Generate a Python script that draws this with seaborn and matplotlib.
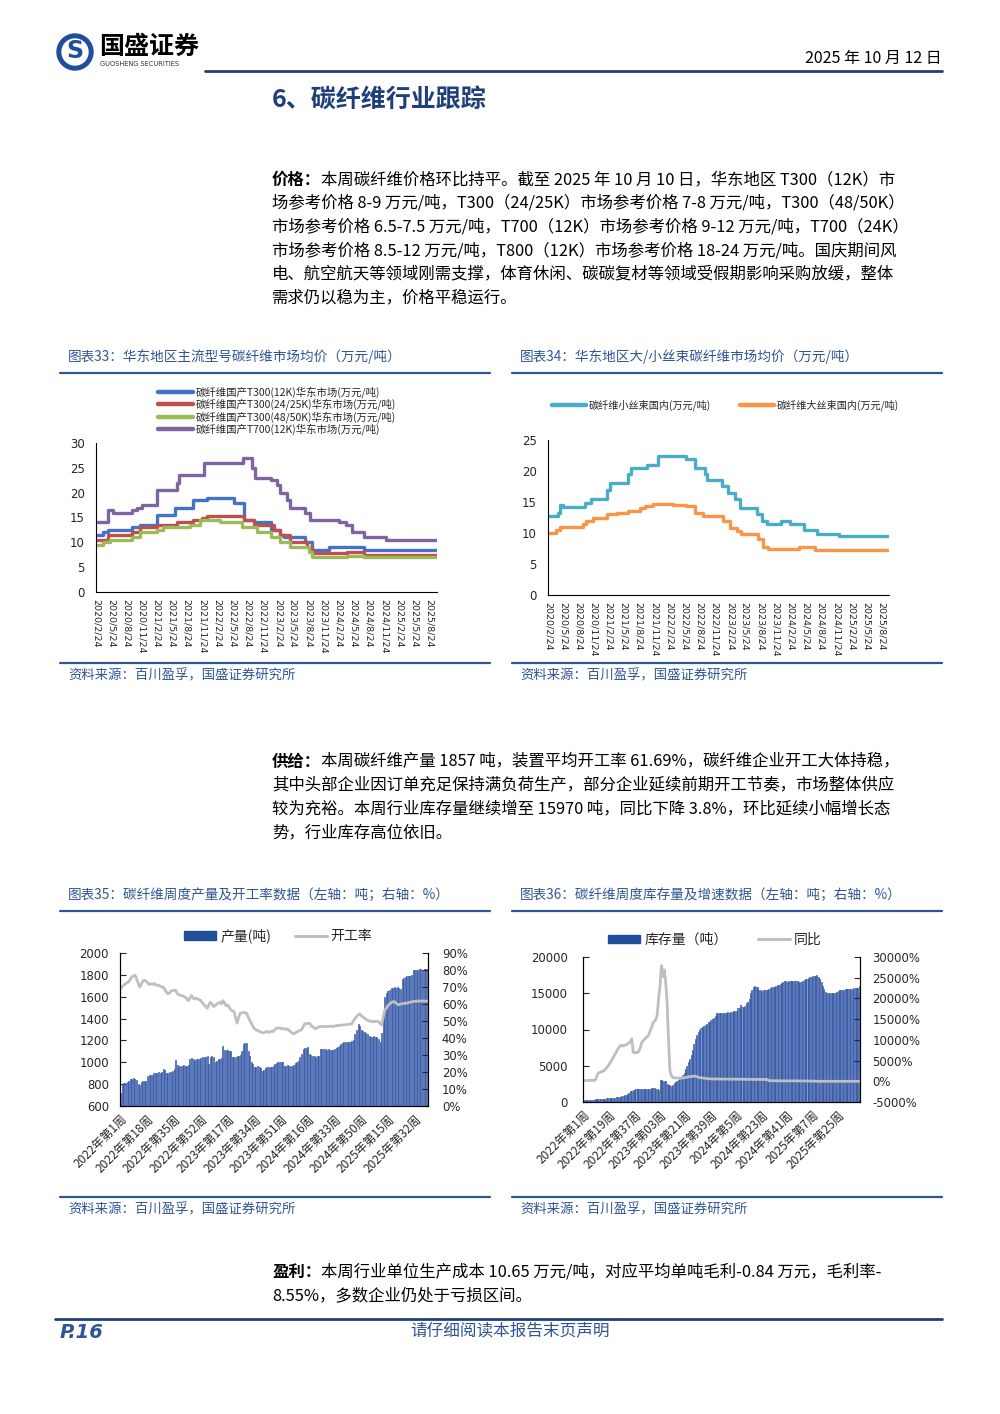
import matplotlib

matplotlib.use("Agg")
import matplotlib.pyplot as plt
import matplotlib.transforms as mtransforms
from matplotlib.lines import Line2D
from matplotlib.patches import Circle, Patch
import numpy as np
import pandas as pd
import seaborn as sns

sns.set_theme(style="white")
plt.rcParams["font.family"] = ["Noto Sans CJK SC", "DejaVu Sans"]
plt.rcParams["axes.unicode_minus"] = False

W, H = 1000, 1414
NAVY = "#1F3F7A"
CAP_BLUE = "#2F5597"
NUM_FONT = ["DejaVu Sans"]

# ---------------------------------------------------------------------------
# Data: chart 33 (step series, change points: date, price 万元/吨)
# ---------------------------------------------------------------------------
T300_12K = [("2020-02-24", 11.5), ("2020-04-07", 12.0), ("2020-05-08", 12.5), ("2020-09-27", 13.0),
            ("2020-11-15", 13.5), ("2021-02-25", 15.5), ("2021-06-14", 17.0), ("2021-10-03", 18.5),
            ("2021-12-24", 19.0), ("2022-06-02", 18.0), ("2022-08-02", 14.5), ("2022-10-02", 14.0),
            ("2023-01-11", 12.5), ("2023-03-11", 11.5), ("2023-03-31", 11.0), ("2023-08-08", 10.0),
            ("2023-09-19", 8.5), ("2023-12-29", 9.0), ("2024-07-27", 8.5), ("2025-10-10", 8.5)]
T300_25K = [("2020-02-24", 10.5), ("2020-05-08", 11.5), ("2020-09-27", 12.0), ("2020-11-15", 13.0),
            ("2021-02-25", 13.5), ("2021-06-24", 14.0), ("2021-10-03", 14.5), ("2021-11-24", 15.0),
            ("2021-12-24", 15.3), ("2022-08-02", 14.5), ("2022-10-02", 13.5), ("2023-01-31", 12.5),
            ("2023-03-11", 11.5), ("2023-05-10", 10.0), ("2023-08-19", 9.0), ("2023-09-19", 7.8),
            ("2024-04-18", 8.0), ("2024-07-27", 7.5), ("2025-10-10", 7.5)]
T300_50K = [("2020-02-24", 9.5), ("2020-04-07", 10.0), ("2020-05-18", 10.5), ("2020-09-27", 11.0),
            ("2020-11-15", 12.0), ("2021-02-25", 12.5), ("2021-04-05", 13.0), ("2021-09-13", 13.5),
            ("2021-11-13", 14.5), ("2022-03-13", 14.0), ("2022-07-22", 13.0), ("2022-10-22", 12.0),
            ("2023-01-11", 11.0), ("2023-03-11", 10.0), ("2023-05-10", 9.0), ("2023-08-29", 8.0),
            ("2023-09-19", 7.0), ("2024-04-18", 7.3), ("2024-07-27", 7.0), ("2025-10-10", 7.0)]
T700_12K = [("2020-02-24", 14.0), ("2020-05-08", 16.5), ("2020-06-07", 16.0), ("2020-09-27", 16.5),
            ("2020-10-27", 17.0), ("2020-11-25", 17.5), ("2021-02-25", 20.5), ("2021-06-24", 22.0),
            ("2021-07-10", 23.5), ("2021-12-03", 26.0), ("2022-07-28", 27.0), ("2022-09-21", 25.0),
            ("2022-10-12", 23.0), ("2023-01-11", 22.5), ("2023-02-20", 21.5), ("2023-03-11", 20.0),
            ("2023-04-20", 18.5), ("2023-05-10", 17.0), ("2023-08-08", 16.0), ("2023-09-08", 14.5),
            ("2024-02-27", 14.0), ("2024-04-08", 13.5), ("2024-05-18", 12.0), ("2024-07-27", 11.0),
            ("2024-12-06", 10.5), ("2025-10-10", 10.5)]
C33_NAMES = ["碳纤维国产T300(12K)华东市场(万元/吨)", "碳纤维国产T300(24/25K)华东市场(万元/吨)",
             "碳纤维国产T300(48/50K)华东市场(万元/吨)", "碳纤维国产T700(12K)华东市场(万元/吨)"]
C33_COLORS = ["#4472C4", "#C0504D", "#9BBB59", "#8064A2"]

# chart 34
SMALL_TOW = [("2020-02-24", 12.8), ("2020-04-23", 13.3), ("2020-05-04", 14.5), ("2020-05-24", 14.2),
             ("2020-10-02", 14.8), ("2020-11-12", 15.5), ("2021-02-11", 17.0), ("2021-03-03", 18.0),
             ("2021-06-21", 19.5), ("2021-07-11", 20.5), ("2021-10-10", 21.0), ("2021-12-19", 22.5),
             ("2022-06-07", 22.0), ("2022-07-28", 20.5), ("2022-09-27", 19.5), ("2022-10-07", 18.5),
             ("2023-01-06", 17.5), ("2023-02-15", 16.5), ("2023-03-26", 15.5), ("2023-04-25", 14.0),
             ("2023-08-04", 13.0), ("2023-09-03", 12.0), ("2023-10-03", 11.5), ("2024-01-01", 12.0),
             ("2024-02-24", 11.5), ("2024-05-14", 10.5), ("2024-08-03", 9.8), ("2024-12-13", 9.5),
             ("2025-10-10", 9.5)]
LARGE_TOW = [("2020-02-24", 10.0), ("2020-04-13", 10.5), ("2020-05-04", 11.0), ("2020-09-22", 11.5),
             ("2020-10-12", 12.0), ("2020-11-22", 12.5), ("2021-02-11", 13.0), ("2021-04-12", 13.3),
             ("2021-06-21", 13.5), ("2021-08-30", 14.0), ("2021-09-30", 14.3), ("2021-11-19", 14.7),
             ("2022-03-18", 14.5), ("2022-06-07", 14.3), ("2022-07-28", 13.3), ("2022-09-17", 12.8),
             ("2023-01-16", 12.0), ("2023-02-25", 10.8), ("2023-04-05", 10.3), ("2023-05-05", 9.8),
             ("2023-08-14", 9.0), ("2023-09-13", 7.7), ("2023-10-13", 7.4), ("2024-04-14", 7.7),
             ("2024-07-24", 7.2), ("2025-10-10", 7.2)]
C34_NAMES = ["碳纤维小丝束国内(万元/吨)", "碳纤维大丝束国内(万元/吨)"]
C34_COLORS = ["#4BACC6", "#F79646"]

# chart 35: weekly output (t) and operating rate (%), 2022 wk1 .. 2025 wk40
OUTPUT_T = [
    720, 800, 810, 815, 820, 825, 850, 850, 855, 850, 840, 800, 790, 820, 825, 830, 830, 870,
    880, 885, 880, 900, 905, 905, 910, 905, 910, 940, 925, 900, 905, 910, 915, 920, 940, 1020,
    975, 970, 970, 970, 975, 970, 970, 975, 1030, 1035, 1030, 1025, 1030, 1030, 1030, 1040,
    1050, 1050, 1050, 1055, 980, 1050, 1055, 1050, 1000, 1010, 1030, 1030, 1040, 1150, 1110,
    1110, 1110, 1105, 1100, 1050, 1045, 1050, 1060, 1060, 1070, 1100, 1170, 1180, 1180, 1100,
    1060, 1000, 980, 960, 960, 965, 960, 950, 920, 930, 950, 955, 955, 960, 960, 965, 980, 990,
    1000, 1000, 1005, 1000,
    970, 970, 975, 970, 970, 970, 975, 990, 1000, 1010, 1050, 1080, 1120, 1130, 1130, 1140,
    1080, 1070, 1060, 1055, 1050, 1055, 1060, 1120, 1120, 1120, 1120, 1115, 1120, 1115, 1110,
    1110, 1120, 1130, 1140, 1150, 1170, 1175, 1185, 1190, 1190, 1190, 1190, 1195, 1200, 1260,
    1300, 1350, 1330, 1300, 1290, 1280,
    1270, 1260, 1240, 1235, 1235, 1240, 1235, 1235, 1210, 1190, 1270, 1450, 1600, 1630, 1650,
    1660, 1680, 1680, 1690, 1680, 1685, 1680, 1670, 1760, 1770, 1780, 1785, 1790, 1790, 1800,
    1840, 1840, 1845, 1845, 1850, 1850, 1848, 1852, 1850, 1857]
RATE_PCT = [
    69, 70.5, 71, 72, 72.5, 73, 74.5, 76, 76.5, 77, 75, 72.5, 70, 71.5, 73.5, 74, 73.5, 72.5,
    71.5, 72, 71.5, 72, 71.5, 71, 71, 70.5, 70, 70, 68.5, 67, 66, 66.5, 67.5, 68, 68, 68, 66,
    65.5, 65, 65, 64.5, 64, 63, 62, 63.5, 65, 63.5, 63, 63.5, 63, 62.5, 62,
    60.5, 59.5, 58.5, 57.5, 59.5, 61, 60, 58.5, 59, 60, 60.5, 61, 60, 62, 60.5, 59, 59.5, 58,
    56.5, 56, 55.6, 52, 48.7, 52, 54.6, 54.8, 55, 54.8, 54.6, 52.5, 50.5, 48.7, 47, 45.5, 45,
    44.4, 44, 43.5, 43.2, 43, 43.5, 43.8, 43.2, 43.6, 44, 43.8, 44.8, 45.8, 45.8, 46, 45.5, 45.6,
    45.4, 45, 45.4, 44.5, 43.8, 43, 42.4, 43, 43.5, 44, 44.5, 44.8, 46.5, 48.3, 48.5, 48.6,
    48.7, 47.5, 46.5, 46, 45.4, 46, 46.5, 46.8, 46.8, 46.6, 46.9, 46.8, 46.7, 47, 46.8, 46.8,
    47, 47.2, 47.4, 47.3, 47.6, 47.7, 47.7, 47.8, 47.9, 48, 48.2, 48.3, 50, 51.5, 52.5, 53.5,
    54.2, 53.2, 52.4, 51.7,
    51, 50.5, 50, 49.7, 49.8, 49.6, 49.7, 49.8, 49.7, 48.5, 47.7, 52, 56.6, 57.5, 59, 60, 60.8,
    61.2, 61.5, 60.5, 60, 59.5, 60, 60.2, 60.3, 60.4, 60.5, 60.8, 61, 61.2, 61.5, 61.6, 61.6,
    61.7, 61.7, 61.8, 61.8, 61.7, 61.7, 61.69]
C35_TICKS = ["2022年第1周", "2022年第18周", "2022年第35周", "2022年第52周", "2023年第17周",
             "2023年第34周", "2023年第51周", "2024年第16周", "2024年第33周", "2024年第50周",
             "2025年第15周", "2025年第32周"]

# chart 36: weekly inventory (t) and YoY (%)
STOCK_T = [
    250, 260, 270, 280, 290, 300, 310, 330, 350, 370, 390, 400, 420, 440, 460, 480, 500, 520,
    540, 560, 580, 600, 620, 650, 680, 700, 730, 760, 800, 900, 1000, 1150, 1300, 1450, 1550,
    1650, 1700, 1750, 1750, 1780, 1800, 1780, 1800, 1820, 1800, 1850, 1830, 1850, 1900, 1920,
    1880, 1800,
    1750, 1700, 3000, 3050, 2950, 2900, 2850, 2500, 2400, 2300, 2200, 2400, 2600, 2700, 2900,
    3000, 3200, 3400, 3700, 4000, 4500, 5000, 5500, 6000, 6500, 7200, 8000, 8700, 9300, 9700,
    10000, 10200, 10400, 10500, 10600, 10800, 11000, 11100, 11300, 11500, 11600, 11800, 12300,
    12300, 12250, 12300, 12300, 12250, 12300, 12300, 12350, 12300,
    12400, 12450, 12500, 12500, 12550, 13000, 13000, 13400, 13100, 13000, 13200, 13600, 13800,
    14200, 15000, 15500, 15800, 16000, 15900, 15800, 15400, 15400, 15350, 15400, 15400, 15450,
    15500, 15600, 15700, 15800, 15900, 15900, 16000, 16100, 16200, 16300, 16400, 16500, 16700,
    16700, 16600, 16700, 16700, 16650, 16700, 16700, 16650, 16700, 16600, 16550, 16600, 16700,
    16800, 16900, 17000, 17100, 17200, 17300, 17400, 17350, 17400, 17500, 17200, 16900, 16500,
    16000, 15600, 15200, 15100, 15100, 15000, 15000, 15000, 15050, 15100, 15200, 15300, 15400,
    15400, 15500, 15500, 15550, 15600, 15600, 15600, 15650, 15650, 15700, 15700, 15700, 15750,
    15970]
STOCK_YOY_PCT = [
    150, 160, 170, 160, 170, 180, 190, 200, 250, 900, 1800, 2100, 2200, 2400, 2450, 2800, 3200,
    3600, 4060, 4600, 5200, 5800, 6470, 7000, 7700, 8200, 8640, 8700, 8500, 8720, 8800, 9000,
    9280, 9500, 10250, 7000, 6870, 7000, 6900, 7280, 8000, 9280, 9800, 10100, 10490, 10800,
    11200, 12090, 13000, 14100, 14500, 14900,
    16000, 20000, 23000, 27900, 25300, 26900, 24000, 19000, 10000, 2500, 1400, 900, 850, 800,
    780, 770, 760, 770, 800, 850, 900, 1000, 1050, 1100, 1150, 1200, 1250, 1200, 1100, 1000,
    900, 850, 800, 750, 700, 650, 620, 600, 580, 570, 560, 550, 560, 550, 540, 550, 540, 530,
    540, 530, 520, 530,
    520, 510, 520, 510, 500, 510, 500, 490, 500, 490, 480, 490, 480, 470, 480, 470, 460, 470,
    460, 450, 460, 450, 440, 450, 440, 430, 420, 150, 140, 130, 130, 120, 130, 120, 110, 120,
    110, 100, 110, 100, 100, 110, 100, 90, 100, 90, 100, 90, 80, 90, 80, 90,
    80, 70, 60, 50, 40, 30, 20, 10, 5, 0, -5, -8, -10, -12, -10, -12, -11, -10, -9, -8, -7, -6,
    -6, -5, -5, -5, -4, -4, -4, -4, -4, -4, -3, -3, -3, -4, -4, -4, -3.8, -3.8]
C36_TICKS = ["2022年第1周", "2022年第19周", "2022年第37周", "2023年第03周", "2023年第21周",
             "2023年第39周", "2024年第5周", "2024年第23周", "2024年第41周", "2025年第7周",
             "2025年第25周"]

PARA_PRICE = ["本周碳纤维价格环比持平。截至 2025 年 10 月 10 日，华东地区 T300（12K）市",
              "场参考价格 8-9 万元/吨，T300（24/25K）市场参考价格 7-8 万元/吨，T300（48/50K）",
              "市场参考价格 6.5-7.5 万元/吨，T700（12K）市场参考价格 9-12 万元/吨，T700（24K）",
              "市场参考价格 8.5-12 万元/吨，T800（12K）市场参考价格 18-24 万元/吨。国庆期间风",
              "电、航空航天等领域刚需支撑，体育休闲、碳碳复材等领域受假期影响采购放缓，整体",
              "需求仍以稳为主，价格平稳运行。"]
PARA_SUPPLY = ["本周碳纤维产量 1857 吨，装置平均开工率 61.69%，碳纤维企业开工大体持稳，",
               "其中头部企业因订单充足保持满负荷生产，部分企业延续前期开工节奏，市场整体供应",
               "较为充裕。本周行业库存量继续增至 15970 吨，同比下降 3.8%，环比延续小幅增长态",
               "势，行业库存高位依旧。"]
PARA_PROFIT = ["本周行业单位生产成本 10.65 万元/吨，对应平均单吨毛利-0.84 万元，毛利率-",
               "8.55%，多数企业仍处于亏损区间。"]

# ---------------------------------------------------------------------------
fig = plt.figure(figsize=(W / 100, H / 100), dpi=100)
fig.patch.set_facecolor("white")


def axes_px(x0, y0, x1, y1):
    return fig.add_axes([x0 / W, 1 - y1 / H, (x1 - x0) / W, (y1 - y0) / H])


def text_px(x, y, s, **kw):
    kw.setdefault("va", "center")
    return fig.text(x / W, 1 - y / H, s, **kw)


def hline_px(x0, x1, y, color, lw):
    fig.add_artist(Line2D([x0 / W, x1 / W], [1 - y / H] * 2, color=color, lw=lw,
                          transform=fig.transFigure))


def paragraph(x, y0, head, lines, step=23.5, size=11.8):
    text_px(x, y0, head, fontsize=size, fontweight="bold", color="black")
    for i, line in enumerate(lines):
        lx = x + 3 * size * 100 / 72 if i == 0 else x
        text_px(lx, y0 + i * step, line, fontsize=size, color="black")


def caption(x0, x1, y, title):
    text_px(x0 + 8, y, title, fontsize=9.8, color=CAP_BLUE, style="italic")
    hline_px(x0, x1, y + 16, CAP_BLUE, 1.6)


def source(x0, x1, y):
    hline_px(x0, x1, y, CAP_BLUE, 1.6)
    text_px(x0 + 8, y + 12, "资料来源：百川盈孚，国盛证券研究所", fontsize=9.6, color=CAP_BLUE,
            style="italic")


# header -------------------------------------------------------------------
ident = mtransforms.IdentityTransform()
fig.add_artist(Circle((75, H - 52), 18, transform=ident, color="#1F4E9A"))
fig.add_artist(Circle((75, H - 52), 13, transform=ident, color="white"))
text_px(75, 51, "S", fontsize=17, fontweight="bold", color="#1F4E9A", ha="center",
        family=NUM_FONT)
text_px(99, 47, "国盛证券", fontsize=18, fontweight="bold", color="black")
text_px(100, 64, "GUOSHENG SECURITIES", fontsize=4.8, color="#333333", family=NUM_FONT)
text_px(942, 58, "2025 年 10 月 12 日", fontsize=11.5, color="black", ha="right")
hline_px(205, 942, 71, NAVY, 2.0)
text_px(272, 100, "6、碳纤维行业跟踪", fontsize=18, fontweight="bold", color=NAVY)

paragraph(272, 180, "价格：", PARA_PRICE)
paragraph(272, 762, "供给：", PARA_SUPPLY)
paragraph(272, 1272, "盈利：", PARA_PROFIT)

caption(60, 490, 357, "图表33：华东地区主流型号碳纤维市场均价（万元/吨）")
caption(512, 942, 357, "图表34：华东地区大/小丝束碳纤维市场均价（万元/吨）")
source(60, 490, 663)
source(512, 942, 663)
caption(60, 490, 895, "图表35：碳纤维周度产量及开工率数据（左轴：吨；右轴：%）")
caption(512, 942, 895, "图表36：碳纤维周度库存量及增速数据（左轴：吨；右轴：%）")
source(60, 490, 1197)
source(512, 942, 1197)

hline_px(55, 942, 1319, NAVY, 2.0)
text_px(60, 1332, "P.16", fontsize=14, fontweight="bold", style="italic", color=CAP_BLUE,
        family=NUM_FONT)
text_px(510, 1332, "请仔细阅读本报告末页声明", fontsize=12, color=CAP_BLUE, style="italic",
        ha="center")

# step charts ----------------------------------------------------------------
DATE_TICKS = pd.date_range("2020-02-24", periods=23, freq=pd.DateOffset(months=3))


def step_chart(ax, series, names, colors):
    for pts, name, col in zip(series, names, colors):
        df = pd.DataFrame(pts, columns=["date", "value"])
        df["date"] = pd.to_datetime(df["date"])
        sns.lineplot(data=df, x="date", y="value", ax=ax, drawstyle="steps-post", color=col,
                     linewidth=2.4, label=name, legend=False)
    ax.set_xlim(pd.Timestamp("2020-02-24"), pd.Timestamp("2025-10-10"))
    ax.set_xticks(DATE_TICKS)
    ax.set_xticklabels([f"{d.year}/{d.month}/{d.day}" for d in DATE_TICKS], rotation=-90,
                       fontsize=6.8, family=NUM_FONT, va="top", ha="center")
    ax.set_xlabel("")
    ax.set_ylabel("")
    for s in ("top", "right"):
        ax.spines[s].set_visible(False)
    for s in ("left", "bottom"):
        ax.spines[s].set_color("black")
        ax.spines[s].set_linewidth(0.8)
    ax.tick_params(axis="y", direction="in", length=4, width=0.8, labelsize=8.5, pad=8)
    ax.tick_params(axis="x", direction="out", length=3, width=0.8, pad=2)
    ax.grid(False)


ax33 = axes_px(96, 443, 437, 592)
step_chart(ax33, [T300_12K, T300_25K, T300_50K, T700_12K], C33_NAMES, C33_COLORS)
ax33.set_ylim(0, 30)
ax33.set_yticks(range(0, 31, 5))
ax33.set_yticklabels([str(v) for v in range(0, 31, 5)], family=NUM_FONT)
ax33.legend(handles=[Line2D([], [], color=c, lw=3.2) for c in C33_COLORS], labels=C33_NAMES,
            loc="upper left", bbox_to_anchor=(158 / W, 1 - 386 / H), bbox_transform=fig.transFigure,
            frameon=False, fontsize=7.5, handlelength=3.4, handletextpad=0.2, labelspacing=0.08,
            borderpad=0, borderaxespad=0)

ax34 = axes_px(548, 440, 889, 595)
step_chart(ax34, [SMALL_TOW, LARGE_TOW], C34_NAMES, C34_COLORS)
ax34.set_ylim(0, 25)
ax34.set_yticks(range(0, 26, 5))
ax34.set_yticklabels([str(v) for v in range(0, 26, 5)], family=NUM_FONT)
ax34.legend(handles=[Line2D([], [], color=c, lw=3.2) for c in C34_COLORS], labels=C34_NAMES,
            loc="center left", bbox_to_anchor=(552 / W, 1 - 405 / H), bbox_transform=fig.transFigure,
            ncol=2, frameon=False, fontsize=7.3, handlelength=3.4, handletextpad=0.25,
            columnspacing=2.8, borderpad=0, borderaxespad=0)


# bar + line charts ------------------------------------------------------------
def bar_line_chart(ax, bars, line, ticks, step, bar_lim, bar_ticks, line_lim, line_ticks,
                   names, legend_x, legend_y, colspace, lpad, rpad):
    n = len(bars)
    idx = np.arange(n)
    sns.barplot(x=idx, y=bars, ax=ax, color="#7C9CD4", saturation=1, width=0.72,
                edgecolor="#24489A", linewidth=0.45, errorbar=None)
    ax.set_ylim(*bar_lim)
    ax.set_yticks(bar_ticks)
    ax.set_yticklabels([str(v) for v in bar_ticks], family=NUM_FONT, fontsize=8.4)
    ax.set_xlim(-0.5, n - 0.5)
    ax.set_xticks(idx, minor=True)
    ax.set_xticks(idx[::step][:len(ticks)])
    ax.set_xticklabels(ticks, rotation=45, ha="right", rotation_mode="anchor", fontsize=8.6)
    ax.tick_params(axis="x", which="both", direction="out", length=3, width=0.7, pad=2)
    ax.tick_params(axis="y", direction="in", length=4, width=0.8, pad=lpad)

    ax2 = ax.twinx()
    sns.lineplot(x=idx, y=line, ax=ax2, color="#BFBFBF", linewidth=2.0)
    ax2.set_ylim(*line_lim)
    ax2.set_yticks(line_ticks)
    ax2.set_yticklabels([f"{v}%" for v in line_ticks], family=NUM_FONT, fontsize=8.4)
    ax2.tick_params(axis="y", direction="in", length=4, width=0.8, pad=rpad)
    for a in (ax, ax2):
        a.set_xlabel("")
        a.set_ylabel("")
        a.grid(False)
        a.spines["top"].set_visible(False)
        for s in ("left", "right", "bottom"):
            a.spines[s].set_color("black")
            a.spines[s].set_linewidth(0.8)
    ax.legend(handles=[Patch(facecolor="#1F4E9A", edgecolor="#1F4E9A"),
                       Line2D([], [], color="#BFBFBF", lw=2.2)], labels=names,
              loc="center left", bbox_to_anchor=(legend_x / W, 1 - legend_y / H),
              bbox_transform=fig.transFigure, ncol=2, frameon=False, fontsize=10,
              handlelength=2.3, handleheight=0.55, handletextpad=0.3, columnspacing=colspace,
              borderpad=0, borderaxespad=0)
    return ax2


ax35 = axes_px(120, 953, 428, 1106)
bar_line_chart(ax35, OUTPUT_T, RATE_PCT, C35_TICKS, 17, (600, 2000), list(range(600, 2001, 200)),
               (0, 90), list(range(0, 91, 10)), ["产量(吨)", "开工率"], 184, 936, 1.7, 8, 10)

ax36 = axes_px(583, 957, 860, 1102)
bar_line_chart(ax36, STOCK_T, STOCK_YOY_PCT, C36_TICKS, 18, (0, 20000),
               list(range(0, 20001, 5000)), (-5000, 30000), list(range(-5000, 30001, 5000)),
               ["库存量（吨）", "同比"], 608, 940, 2.2, 11, 9)

fig.savefig("out.png", dpi=100)
